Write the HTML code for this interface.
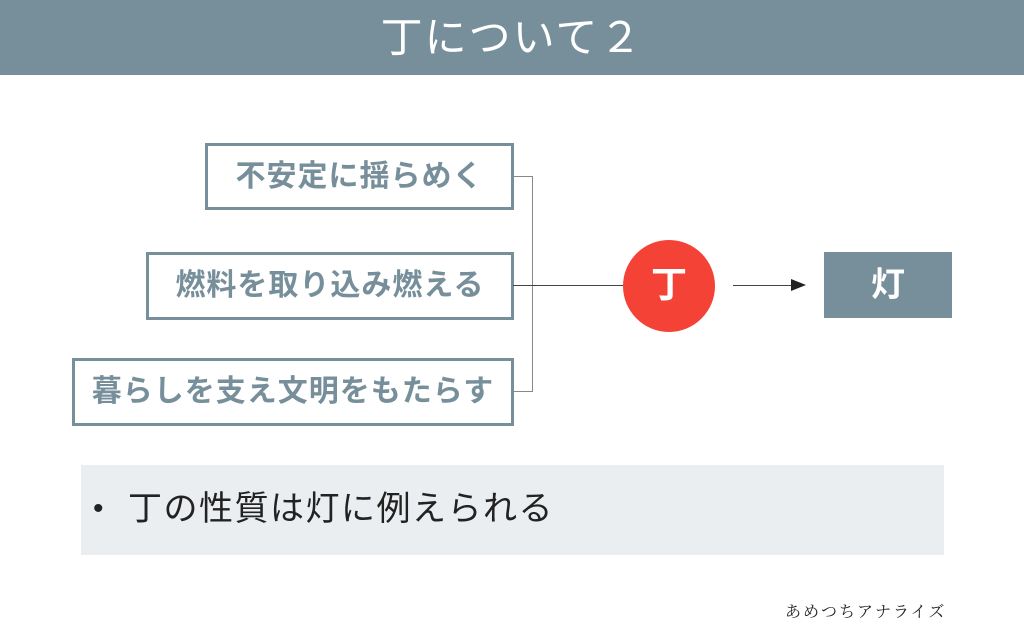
<!DOCTYPE html>
<html><head><meta charset="utf-8"><style>
body{margin:0;width:1024px;height:640px;background:#fff;position:relative;overflow:hidden;font-family:"Liberation Sans","Noto Sans CJK JP",sans-serif}
.hd{position:absolute;left:0;top:0;width:1024px;height:75px;background:#778f9b;color:#fff;font-size:42px;text-align:center;line-height:75px;letter-spacing:2px}
.b{position:absolute;border:3px solid #778f9b;box-sizing:border-box;color:#778f9b;font-weight:bold;font-size:30px;text-align:center;letter-spacing:1px}
.l{position:absolute;background:#555}
</style></head><body>
<div class="hd">丁について２</div>
<div class="b" style="left:205px;top:143px;width:309px;height:67px;line-height:61px">不安定に揺らめく</div>
<div class="b" style="left:146px;top:252px;width:368px;height:68px;line-height:62px">燃料を取り込み燃える</div>
<div class="b" style="left:72px;top:358px;width:442px;height:68px;line-height:62px">暮らしを支え文明をもたらす</div>
<div class="l" style="left:513px;top:176px;width:19px;height:1px;background:#888"></div>
<div class="l" style="left:532px;top:176px;width:1px;height:216px;background:#888"></div>
<div class="l" style="left:513px;top:391px;width:19px;height:1px;background:#888"></div>
<div class="l" style="left:513px;top:285px;width:112px;height:1px;background:#444"></div>
<div style="position:absolute;left:623px;top:240px;width:92px;height:92px;border-radius:50%;background:#f44336;color:#fff;font-size:36px;font-weight:bold;text-align:center;line-height:90px">丁</div>
<div class="l" style="left:733px;top:285px;width:60px;height:1px;background:#444"></div>
<div style="position:absolute;left:791px;top:279px;width:0;height:0;border-left:15px solid #222;border-top:6px solid transparent;border-bottom:6px solid transparent"></div>
<div style="position:absolute;left:824px;top:252px;width:128px;height:66px;background:#778f9b;color:#fff;font-size:34px;font-weight:bold;text-align:center;line-height:66px">灯</div>
<div style="position:absolute;left:81px;top:465px;width:863px;height:90px;background:#ebeef0;font-size:34px;line-height:88px;color:#222"><span style="position:absolute;left:12px;font-size:30px">•</span><span style="position:absolute;left:47px;letter-spacing:1.5px">丁の性質は灯に例えられる</span></div>
<div style="position:absolute;left:785px;top:599px;font-size:16px;color:#222;font-family:'Noto Serif CJK SC',serif;letter-spacing:2px">あめつちアナライズ</div>
</body></html>
